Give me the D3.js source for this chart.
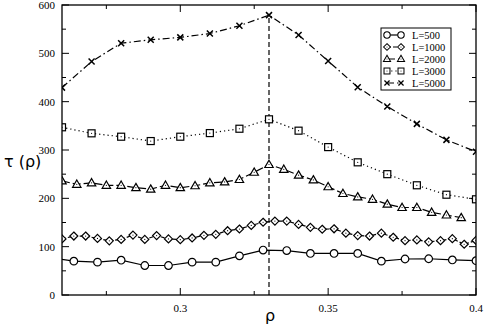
<!DOCTYPE html>
<html>
<head>
<meta charset="utf-8">
<script src="https://cdn.jsdelivr.net/npm/d3@7"></script>
<style>
    body { margin: 0; background: #fff; }
    svg { display: block; }
</style>
</head>
<body>
<script>
const width = 485;
const height = 328;
const margin = { top: 5, right: 9, bottom: 33, left: 62 };

// data
const rho500 = [0.256, 0.264, 0.272, 0.28, 0.288, 0.296, 0.304, 0.312, 0.32, 0.328,
    0.336, 0.344, 0.352, 0.36, 0.368, 0.376, 0.384, 0.392, 0.4];
const tau500 = [77, 70, 68, 72, 61, 61, 68, 68, 81, 93,
    92, 86, 86, 86, 70, 74.5, 75, 72.5, 71];

const rho1000 = [0.26, 0.264, 0.268, 0.272, 0.276, 0.28, 0.284, 0.288, 0.292, 0.296,
    0.3, 0.304, 0.308, 0.312, 0.316, 0.32, 0.324, 0.328, 0.332, 0.336,
    0.34, 0.344, 0.348, 0.352, 0.356, 0.36, 0.364, 0.368, 0.372, 0.376,
    0.38, 0.384, 0.388, 0.392, 0.396, 0.4];
const tau1000 = [116, 122, 122, 117, 112, 115, 124, 115, 123, 116,
    114.5, 118, 123.5, 125.5, 133, 136.5, 144, 150.5, 153, 153,
    146, 140, 136, 137, 128, 123, 122, 128, 119.5, 112.5,
    114, 110, 112.5, 116.5, 105, 113];

const rho2000 = [0.26, 0.265, 0.27, 0.275, 0.28, 0.285, 0.29, 0.295, 0.3, 0.305,
    0.31, 0.315, 0.32, 0.325, 0.33, 0.335, 0.34, 0.345, 0.35, 0.355,
    0.36, 0.365, 0.37, 0.375, 0.38, 0.385, 0.39, 0.395];
const tau2000 = [236, 229, 232, 227, 227, 222, 219, 227, 222, 226,
    232, 234, 239, 254, 270, 260, 248, 238, 224, 210,
    203, 198, 188, 181, 181, 171, 165.5, 160];

const rho3000 = [0.26, 0.27, 0.28, 0.29, 0.3, 0.31, 0.32, 0.33, 0.34, 0.35,
    0.36, 0.37, 0.38, 0.39, 0.4];
const tau3000 = [347, 334.5, 327.5, 318.5, 327.5, 335, 344, 363.5, 340, 306,
    274.5, 250, 227, 207.5, 198];

const rho5000 = rho3000;
const tau5000 = [429, 483, 521, 528, 533, 541, 557, 579, 538, 484,
    430, 390, 354, 321, 296.5];

const criticalRho = 0.33;
const criticalTop = 579;

const xTicks = [0.3, 0.35, 0.4];
const xMinor = [0.275, 0.325, 0.375];
const yTicks = [0, 100, 200, 300, 400, 500, 600];
const yMinor = [50, 150, 250, 350, 450, 550];

const series = [
    { label: "L=500", rho: rho500, tau: tau500, shape: "circle", dash: null },
    { label: "L=1000", rho: rho1000, tau: tau1000, shape: "diamond", dash: "4,2" },
    { label: "L=2000", rho: rho2000, tau: tau2000, shape: "triangle", dash: "8,3" },
    { label: "L=3000", rho: rho3000, tau: tau3000, shape: "square", dash: "1.2,3" },
    { label: "L=5000", rho: rho5000, tau: tau5000, shape: "x", dash: "7,3,1.5,3" },
];

const svg = d3.select("body").append("svg")
    .attr("width", width)
    .attr("height", height);

const x = d3.scaleLinear().domain([0.26, 0.4]).range([margin.left, width - margin.right]);
const y = d3.scaleLinear().domain([0, 600]).range([height - margin.bottom, margin.top]);

const serif = "'Liberation Serif', 'Times New Roman', serif";

svg.append("clipPath").attr("id", "clip")
    .append("rect")
    .attr("x", margin.left).attr("y", margin.top)
    .attr("width", width - margin.left - margin.right)
    .attr("height", height - margin.top - margin.bottom);

// ticks, inside on all four sides
const ticks = svg.append("g").attr("stroke", "#000").attr("stroke-width", 1);
const x0 = x.range()[0], x1 = x.range()[1];
const y0 = y.range()[0], y1 = y.range()[1];
xTicks.concat(xMinor).forEach((v) => {
    const len = xTicks.includes(v) ? 7 : 4;
    ticks.append("line").attr("x1", x(v)).attr("x2", x(v)).attr("y1", y0).attr("y2", y0 - len);
    ticks.append("line").attr("x1", x(v)).attr("x2", x(v)).attr("y1", y1).attr("y2", y1 + len);
});
yTicks.concat(yMinor).forEach((v) => {
    const len = yTicks.includes(v) ? 7 : 4;
    ticks.append("line").attr("y1", y(v)).attr("y2", y(v)).attr("x1", x0).attr("x2", x0 + len);
    ticks.append("line").attr("y1", y(v)).attr("y2", y(v)).attr("x1", x1).attr("x2", x1 - len);
});

// tick labels
svg.append("g").selectAll("text").data(xTicks).join("text")
    .attr("x", (d) => x(d)).attr("y", y0 + 17)
    .attr("text-anchor", "middle")
    .attr("font-family", serif).attr("font-size", 11)
    .text((d) => d3.format("")(d));

svg.append("g").selectAll("text").data(yTicks).join("text")
    .attr("x", x0 - 7).attr("y", (d) => y(d)).attr("dy", "0.35em")
    .attr("text-anchor", "end")
    .attr("font-family", serif).attr("font-size", 11)
    .text((d) => d);

// axis titles
svg.append("text").attr("x", 270).attr("y", 321)
    .attr("text-anchor", "middle")
    .attr("font-family", "'DejaVu Sans', sans-serif").attr("font-size", 16)
    .text("ρ");
svg.append("text").attr("x", 4).attr("y", 167)
    .attr("font-family", "'DejaVu Sans', sans-serif").attr("font-size", 16)
    .text("τ (ρ)");

// critical line
svg.append("line")
    .attr("x1", x(criticalRho)).attr("x2", x(criticalRho))
    .attr("y1", y(0)).attr("y2", y(criticalTop))
    .attr("stroke", "#000").attr("stroke-width", 1.2)
    .attr("stroke-dasharray", "5,3");

function marker(sel, shape, cx, cy, k = 1) {
    const g = sel.append("g").attr("transform", `translate(${cx},${cy}) scale(${k})`)
        .attr("fill", "#fff").attr("stroke", "#000").attr("stroke-width", 1.2);
    if (shape === "circle") {
        g.append("circle").attr("r", 3.8);
    } else if (shape === "diamond") {
        g.append("path").attr("d", "M0,-4L4,0L0,4L-4,0Z");
        g.append("circle").attr("r", 0.6).attr("fill", "#000").attr("stroke", "none");
    } else if (shape === "triangle") {
        g.append("path").attr("d", "M0,-4.3L4.2,3L-4.2,3Z");
        g.append("circle").attr("r", 0.6).attr("fill", "#000").attr("stroke", "none");
    } else if (shape === "square") {
        g.append("rect").attr("x", -3.5).attr("y", -3.5).attr("width", 7).attr("height", 7);
        g.append("circle").attr("r", 0.6).attr("fill", "#000").attr("stroke", "none");
    } else if (shape === "x") {
        g.append("path").attr("d", "M-3,-3L3,3M-3,3L3,-3").attr("stroke-width", 1.5);
    }
}

const plot = svg.append("g").attr("clip-path", "url(#clip)");
const line = d3.line().x((d) => x(d[0])).y((d) => y(d[1]));

series.forEach((s) => {
    const pts = s.rho.map((r, i) => [r, s.tau[i]]);
    plot.append("path")
        .attr("d", line(pts))
        .attr("fill", "none").attr("stroke", "#000").attr("stroke-width", 1.2)
        .attr("stroke-dasharray", s.dash);
    pts.forEach((p) => marker(plot, s.shape, x(p[0]), y(p[1])));
});

// frame
svg.append("rect")
    .attr("x", x0).attr("y", y1)
    .attr("width", x1 - x0).attr("height", y0 - y1)
    .attr("fill", "none").attr("stroke", "#000").attr("stroke-width", 1.3);

// legend
const legend = svg.append("g").attr("transform", "translate(381,28)");
legend.append("rect").attr("width", 70).attr("height", 62)
    .attr("fill", "#fff").attr("stroke", "#000").attr("stroke-width", 1);
series.forEach((s, i) => {
    const ly = 7 + i * 12;
    legend.append("line").attr("x1", 6).attr("x2", 20).attr("y1", ly).attr("y2", ly)
        .attr("stroke", "#000").attr("stroke-width", 1.2)
        .attr("stroke-dasharray", s.dash);
    marker(legend, s.shape, 6, ly, 0.85);
    marker(legend, s.shape, 20, ly, 0.85);
    legend.append("text").attr("x", 31).attr("y", ly).attr("dy", "0.35em")
        .attr("font-family", serif).attr("font-size", 10.5)
        .text(s.label);
});
</script>
</body>
</html>
